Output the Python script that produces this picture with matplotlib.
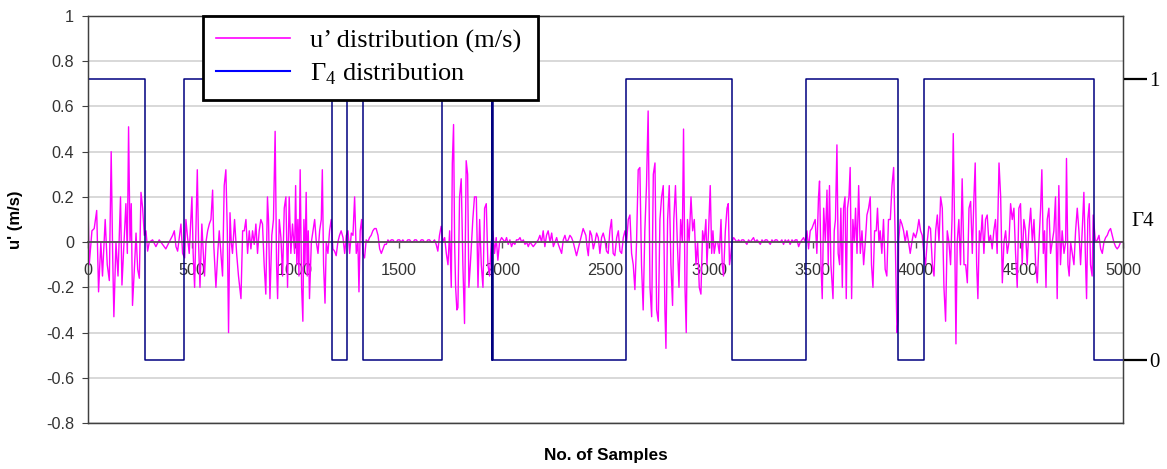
import numpy as np
import matplotlib.pyplot as plt
from matplotlib.lines import Line2D

plt.rcParams['font.family'] = 'Liberation Sans'
plt.rcParams['mathtext.fontset'] = 'custom'
plt.rcParams['mathtext.rm'] = 'Liberation Serif'

# u' trace, (sample, m/s), one list per 1000 samples
u_0000 = [(0, 0.16), (6, -0.10), (19, 0.05), (30, 0.06), (42, 0.14), (51, -0.22), (62, 0.00),
          (70, -0.15), (83, 0.10), (93, -0.10), (103, -0.17), (112, 0.40), (119, -0.05),
          (125, -0.33), (135, 0.00), (145, -0.15), (151, 0.03), (157, 0.20), (164, -0.19),
          (174, 0.00), (183, 0.17), (190, -0.05), (196, 0.51), (203, 0.00), (209, 0.17),
          (215, -0.28), (225, -0.10), (232, 0.04), (240, -0.12), (248, -0.16), (256, 0.22),
          (264, 0.15), (272, 0.03), (280, 0.05), (288, -0.04), (296, 0.00), (312, 0.01),
          (328, -0.02), (344, 0.01), (360, -0.01), (376, -0.03), (392, 0.00), (409, 0.03),
          (417, 0.05), (425, -0.02), (433, -0.04), (441, 0.02), (449, 0.08), (457, -0.05),
          (467, -0.07), (473, 0.10), (481, 0.02), (489, -0.05), (502, 0.20), (508, -0.05),
          (515, -0.20), (521, 0.05), (528, 0.32), (534, 0.00), (541, -0.20), (550, 0.08),
          (557, -0.05), (563, -0.15), (570, 0.00), (578, 0.05), (586, 0.08), (594, 0.10),
          (602, 0.23), (608, -0.02), (618, -0.20), (628, -0.03), (634, 0.05), (642, -0.05),
          (650, -0.15), (658, 0.25), (666, 0.32), (673, 0.05), (679, -0.40), (686, 0.13),
          (692, 0.00), (698, -0.05), (708, 0.10), (718, -0.05), (727, -0.15), (739, -0.25),
          (747, 0.05), (755, 0.05), (763, 0.10), (771, -0.05), (779, 0.05), (787, -0.03),
          (795, 0.05), (803, -0.01), (811, 0.08), (819, -0.05), (827, 0.05), (835, 0.10),
          (843, 0.08), (851, -0.10), (859, -0.23), (867, 0.20), (872, 0.10), (879, -0.25),
          (888, 0.03), (896, 0.10), (904, 0.49), (911, -0.10), (916, -0.25), (924, 0.10),
          (932, 0.02), (940, -0.15), (948, 0.15), (956, 0.20), (964, -0.20), (972, 0.20),
          (980, -0.05), (988, 0.08)]

u_1000 = [(998, -0.05), (1003, 0.25), (1009, -0.10), (1014, 0.10), (1019, -0.15), (1025, 0.32),
          (1032, -0.20), (1038, -0.35), (1043, 0.10), (1048, -0.10), (1054, 0.22), (1059, -0.15),
          (1064, 0.05), (1070, -0.25), (1079, 0.00), (1087, 0.05), (1095, 0.10), (1103, 0.00),
          (1111, -0.05), (1119, 0.05), (1127, 0.10), (1132, 0.32), (1138, -0.10), (1145, -0.27),
          (1151, 0.00), (1159, -0.05), (1167, 0.05), (1175, 0.10), (1183, -0.03), (1191, -0.04),
          (1199, -0.06), (1207, 0.00), (1215, 0.03), (1223, 0.05), (1232, 0.02), (1240, -0.05),
          (1248, 0.03), (1256, 0.05), (1264, -0.05), (1272, 0.04), (1280, 0.03), (1288, 0.20),
          (1296, -0.05), (1304, 0.00), (1309, -0.22), (1315, 0.05), (1322, 0.10), (1328, -0.05),
          (1336, -0.07), (1344, 0.01), (1352, 0.00), (1360, 0.02), (1368, 0.03), (1376, 0.05),
          (1384, 0.06), (1392, 0.06), (1401, 0.03), (1409, -0.03), (1417, -0.05), (1425, -0.03),
          (1433, -0.01), (1441, -0.01), (1449, 0.01), (1457, 0.00), (1465, 0.01), (1473, 0.01),
          (1481, 0.00), (1489, 0.00), (1497, 0.01), (1505, 0.01), (1513, 0.00), (1521, 0.01),
          (1529, 0.00), (1537, 0.00), (1545, 0.01), (1554, 0.01), (1562, 0.00), (1570, 0.00),
          (1578, 0.01), (1586, 0.01), (1594, 0.00), (1602, 0.00), (1610, 0.01), (1618, 0.01),
          (1626, 0.00), (1634, 0.00), (1642, 0.01), (1650, 0.01), (1658, 0.00), (1666, 0.00),
          (1674, 0.01), (1682, -0.01), (1690, -0.04), (1698, 0.03), (1706, 0.07), (1715, 0.00),
          (1723, 0.02), (1731, -0.05), (1739, -0.10), (1747, 0.05), (1755, -0.20), (1760, 0.35),
          (1766, 0.52), (1771, 0.00), (1776, -0.20), (1782, -0.30), (1787, -0.29), (1795, 0.20),
          (1803, 0.28), (1811, -0.10), (1819, -0.36), (1827, 0.36), (1834, 0.30), (1840, -0.20),
          (1847, -0.10), (1859, 0.10), (1867, 0.20), (1876, 0.20), (1884, -0.20), (1892, 0.10),
          (1900, -0.10), (1908, -0.20), (1916, 0.15), (1924, 0.17), (1932, -0.10), (1940, -0.15),
          (1948, 0.00), (1956, 0.05), (1964, -0.05), (1972, 0.02), (1980, -0.08), (1988, 0.00)]

u_2000 = [(1998, 0.02), (2006, 0.01), (2014, 0.00), (2022, 0.02), (2030, -0.01), (2038, 0.01),
          (2046, -0.02), (2054, 0.00), (2062, -0.01), (2070, 0.01), (2079, 0.01), (2087, 0.02),
          (2095, 0.00), (2103, 0.01), (2111, -0.01), (2119, 0.00), (2127, -0.02), (2135, 0.00),
          (2143, -0.01), (2151, -0.02), (2159, -0.01), (2167, 0.00), (2175, 0.01), (2183, 0.03),
          (2191, 0.00), (2199, 0.05), (2207, -0.02), (2215, 0.03), (2223, 0.05), (2232, 0.00),
          (2240, 0.04), (2248, -0.02), (2256, 0.00), (2264, 0.02), (2272, -0.01), (2280, -0.03),
          (2288, -0.05), (2296, 0.01), (2304, 0.03), (2312, 0.00), (2320, 0.01), (2328, 0.03),
          (2336, 0.02), (2344, 0.00), (2352, -0.03), (2360, -0.06), (2368, -0.03), (2376, 0.00),
          (2384, 0.03), (2392, 0.06), (2401, 0.04), (2405, 0.03), (2412, -0.03), (2417, -0.06),
          (2425, 0.05), (2433, 0.03), (2441, -0.03), (2449, 0.00), (2457, 0.04), (2465, 0.02),
          (2473, -0.05), (2481, 0.02), (2489, 0.04), (2497, 0.01), (2505, -0.04), (2513, -0.05),
          (2521, 0.05), (2529, 0.10), (2537, -0.05), (2545, -0.06), (2554, 0.02), (2562, 0.05),
          (2570, -0.04), (2578, -0.05), (2586, 0.02), (2594, 0.05), (2602, 0.00), (2610, 0.10),
          (2618, 0.12), (2626, -0.05), (2634, -0.10), (2642, -0.21), (2650, 0.00), (2658, 0.32),
          (2666, 0.33), (2674, -0.10), (2682, -0.30), (2690, 0.05), (2698, 0.25), (2706, 0.58),
          (2715, -0.20), (2723, -0.33), (2731, 0.30), (2739, 0.35), (2747, -0.30), (2755, -0.35),
          (2763, 0.10), (2771, 0.20), (2779, 0.25), (2787, -0.30), (2792, -0.47), (2800, 0.10),
          (2808, 0.25), (2816, -0.10), (2824, -0.28), (2830, 0.10), (2838, 0.25), (2847, 0.00),
          (2855, -0.20), (2863, 0.10), (2871, 0.00), (2877, 0.50), (2884, -0.20), (2890, -0.40),
          (2896, 0.10), (2904, 0.00), (2913, 0.20), (2921, 0.05), (2929, 0.10), (2937, -0.10),
          (2945, 0.00), (2953, -0.20), (2961, -0.23), (2969, 0.05), (2977, 0.00), (2985, 0.10)]

u_3000 = [(2990, -0.10), (2998, 0.05), (3006, 0.25), (3013, -0.05), (3019, 0.05), (3025, -0.05),
          (3033, 0.00), (3042, 0.00), (3050, -0.05), (3058, 0.10), (3064, -0.10), (3070, -0.15),
          (3079, 0.05), (3087, 0.15), (3093, 0.17), (3099, -0.10), (3106, -0.05), (3111, 0.00),
          (3119, 0.02), (3127, 0.01), (3135, 0.00), (3143, 0.01), (3151, 0.00), (3159, 0.01),
          (3167, 0.01), (3175, 0.00), (3183, -0.01), (3191, 0.01), (3199, 0.00), (3207, 0.01),
          (3215, 0.02), (3223, 0.00), (3232, 0.01), (3240, 0.00), (3248, -0.01), (3256, 0.01),
          (3264, 0.00), (3272, 0.01), (3280, 0.01), (3288, 0.00), (3296, -0.01), (3304, 0.01),
          (3312, 0.00), (3320, 0.01), (3328, 0.01), (3336, 0.00), (3344, 0.00), (3352, 0.01),
          (3360, -0.01), (3368, 0.01), (3376, 0.00), (3384, 0.01), (3392, -0.01), (3401, 0.01),
          (3409, 0.00), (3417, 0.01), (3425, 0.01), (3433, -0.02), (3441, 0.00), (3449, 0.01),
          (3457, 0.02), (3465, 0.00), (3473, 0.05), (3481, -0.03), (3489, 0.05), (3497, 0.06),
          (3505, 0.08), (3513, 0.10), (3521, -0.05), (3529, 0.20), (3534, 0.27), (3541, -0.10),
          (3547, -0.25), (3554, 0.15), (3562, 0.00), (3570, 0.23), (3576, -0.10), (3582, 0.25),
          (3589, -0.10), (3599, -0.25), (3605, 0.05), (3611, 0.10), (3618, 0.43), (3624, -0.05),
          (3631, -0.10), (3637, 0.15), (3644, -0.20), (3650, 0.15), (3657, 0.20), (3663, -0.25),
          (3669, 0.15), (3676, 0.20), (3682, 0.33), (3689, -0.25), (3695, 0.10), (3702, 0.00),
          (3708, 0.15), (3715, -0.05), (3723, 0.25), (3731, -0.05), (3739, 0.05), (3747, -0.10),
          (3755, 0.00), (3763, 0.12), (3771, 0.15), (3779, 0.20), (3785, -0.10), (3792, -0.20),
          (3800, 0.05), (3808, 0.05), (3814, 0.15), (3821, 0.00), (3827, 0.05), (3835, -0.05),
          (3843, 0.10), (3851, -0.12), (3859, -0.15), (3867, 0.10), (3876, 0.10), (3884, 0.25),
          (3892, 0.33), (3900, 0.00), (3904, -0.20), (3908, -0.40), (3913, -0.35), (3916, 0.00),
          (3924, 0.10), (3932, 0.08), (3940, 0.05), (3948, 0.00), (3956, 0.05), (3964, 0.00),
          (3972, -0.05), (3980, 0.00), (3988, 0.04)]

u_4000 = [(3998, 0.02), (4006, 0.05), (4014, 0.10), (4022, 0.05), (4030, 0.03), (4038, -0.05),
          (4046, -0.10), (4054, 0.00), (4062, 0.07), (4070, 0.06), (4079, -0.10), (4087, -0.15),
          (4095, 0.05), (4103, 0.12), (4111, 0.00), (4119, 0.20), (4127, 0.15), (4135, -0.20),
          (4143, -0.35), (4151, 0.05), (4159, 0.00), (4167, -0.10), (4174, 0.10), (4180, 0.48),
          (4186, 0.10), (4193, -0.45), (4199, 0.00), (4207, 0.10), (4215, -0.10), (4223, 0.28),
          (4232, -0.10), (4240, -0.10), (4248, -0.18), (4256, 0.15), (4264, 0.18), (4272, -0.05),
          (4280, 0.20), (4286, 0.35), (4293, -0.10), (4299, -0.25), (4306, 0.05), (4312, 0.00),
          (4320, 0.12), (4328, -0.05), (4336, 0.10), (4344, 0.12), (4352, 0.00), (4360, 0.03),
          (4368, -0.03), (4376, 0.05), (4384, 0.10), (4392, -0.05), (4401, 0.35), (4409, 0.20),
          (4417, -0.18), (4425, 0.00), (4433, 0.05), (4441, -0.05), (4449, 0.00), (4457, 0.17),
          (4465, 0.10), (4473, 0.15), (4481, -0.05), (4489, -0.20), (4497, 0.15), (4505, 0.17),
          (4513, -0.10), (4521, 0.10), (4529, 0.05), (4537, -0.10), (4545, 0.05), (4554, 0.15),
          (4562, 0.00), (4570, 0.10), (4578, -0.10), (4586, -0.18), (4594, 0.00), (4602, 0.15),
          (4608, 0.32), (4615, -0.05), (4621, 0.05), (4628, -0.20), (4634, 0.10), (4642, 0.15),
          (4650, -0.05), (4658, 0.00), (4666, 0.05), (4674, 0.20), (4682, -0.25), (4690, 0.25),
          (4698, -0.10), (4706, 0.05), (4715, -0.05), (4723, 0.00), (4727, 0.37), (4734, -0.10),
          (4740, -0.15), (4747, 0.00), (4755, -0.05), (4763, -0.10), (4771, 0.05), (4779, 0.15),
          (4787, 0.05), (4795, -0.10), (4803, 0.05), (4811, 0.22), (4818, -0.05), (4824, -0.25),
          (4830, 0.10), (4837, 0.17), (4843, -0.10), (4851, -0.15), (4856, 0.12), (4867, 0.00),
          (4876, 0.01), (4884, 0.03), (4892, -0.03), (4900, -0.05), (4908, 0.00), (4916, 0.02),
          (4924, 0.03), (4932, 0.05), (4940, 0.06), (4948, 0.03), (4956, 0.00), (4964, -0.02),
          (4972, -0.03), (4980, -0.02), (4988, 0.00), (5000, 0.00)]

# Gamma_4 switch samples and the level held from each one on
gamma_x = [0, 0, 275, 465, 1177, 1253, 1330, 1709, 1950, 1953, 1957, 2599, 3110, 3469,
           3914, 4039, 4858, 5000]
gamma_y = [0, 1, 0, 1, 0, 1, 0, 1, 0, 1, 0, 1, 0, 1, 0, 1, 0, 0]

u = np.array(u_0000 + u_1000 + u_2000 + u_3000 + u_4000)

fig = plt.figure(figsize=(11.67, 4.69), dpi=100)
ax = fig.add_axes([88/1167, 46/469, 1035/1167, 407/469])

ax.plot(u[:, 0], u[:, 1], color='#ff00ff', lw=1.0, zorder=3)
ax.axhline(0, color='#555555', lw=1.3, zorder=4)

ax.set_xlim(0, 5000)
ax.set_ylim(-0.8, 1)
yt = np.arange(-0.8, 1.01, 0.2)
ax.set_yticks(yt)
ax.set_yticklabels([f"{round(v, 1) + 0.0:g}" for v in yt])
ax.tick_params(axis='y', labelsize=11.7, labelcolor='#333333', color='#404040', length=4, pad=6)
ax.tick_params(axis='x', bottom=False, labelbottom=False)
ax.yaxis.grid(True, color='#d2d2d2', lw=1.2)
ax.set_axisbelow(True)
for s in ax.spines.values():
    s.set_color('#404040')
    s.set_linewidth(1)

# x ticks sit on the zero line
sec = ax.secondary_xaxis(0, transform=ax.transData)
sec.set_xticks(np.arange(0, 5001, 500))
sec.tick_params(axis='x', labelsize=11.7, labelcolor='#333333', color='#555555',
                length=4, width=1, pad=11)
for s in sec.spines.values():
    s.set_color('#555555')
    s.set_linewidth(1.3)

ax.set_ylabel("u' (m/s)", fontsize=12, fontweight='bold')
ax.yaxis.set_label_coords(-0.063, 0.5)
ax.set_xlabel("No. of Samples", fontsize=12.3, fontweight='bold', va='center')
ax.xaxis.set_label_coords(0.5, -0.079)

# Gamma_4 on its own scale: 1 at u'=0.72, 0 at u'=-0.52
ax2 = ax.twinx()
ax2.step(gamma_x, gamma_y, where='post', color='#000080', lw=1.1)
ax2.set_ylim((-0.8 + 0.52) / 1.24, (1 + 0.52) / 1.24)
ax2.set_yticks([0, 1])
ax2.set_yticklabels(['0', '1'], family='Liberation Serif', fontsize=15)
ax2.tick_params(axis='y', length=17, width=1.6, color='black', pad=2)
ax2.set_ylabel("Γ4", family='Liberation Serif', fontsize=15, rotation=0,
               ha='center', va='center')
ax2.yaxis.set_label_coords(1.019, 0.494)
for s in ax2.spines.values():
    s.set_color('#404040')

handles = [Line2D([], [], color='#ff00ff', lw=1.2), Line2D([], [], color='#0000ff', lw=1.5)]
leg = fig.legend(handles, ["u’ distribution (m/s)", "Γ$_4$ distribution"],
                 loc='upper left', mode='expand',
                 bbox_to_anchor=(203/1167, 1 - 16/469, 335/1167, 0), borderaxespad=0,
                 prop={'family': 'Liberation Serif', 'size': 19}, frameon=True,
                 fancybox=False, edgecolor='black', framealpha=1, handlelength=2.8,
                 handletextpad=0.75, borderpad=0.5, labelspacing=0.3)
leg.get_frame().set_linewidth(2)

fig.savefig("out.png", dpi=100)
